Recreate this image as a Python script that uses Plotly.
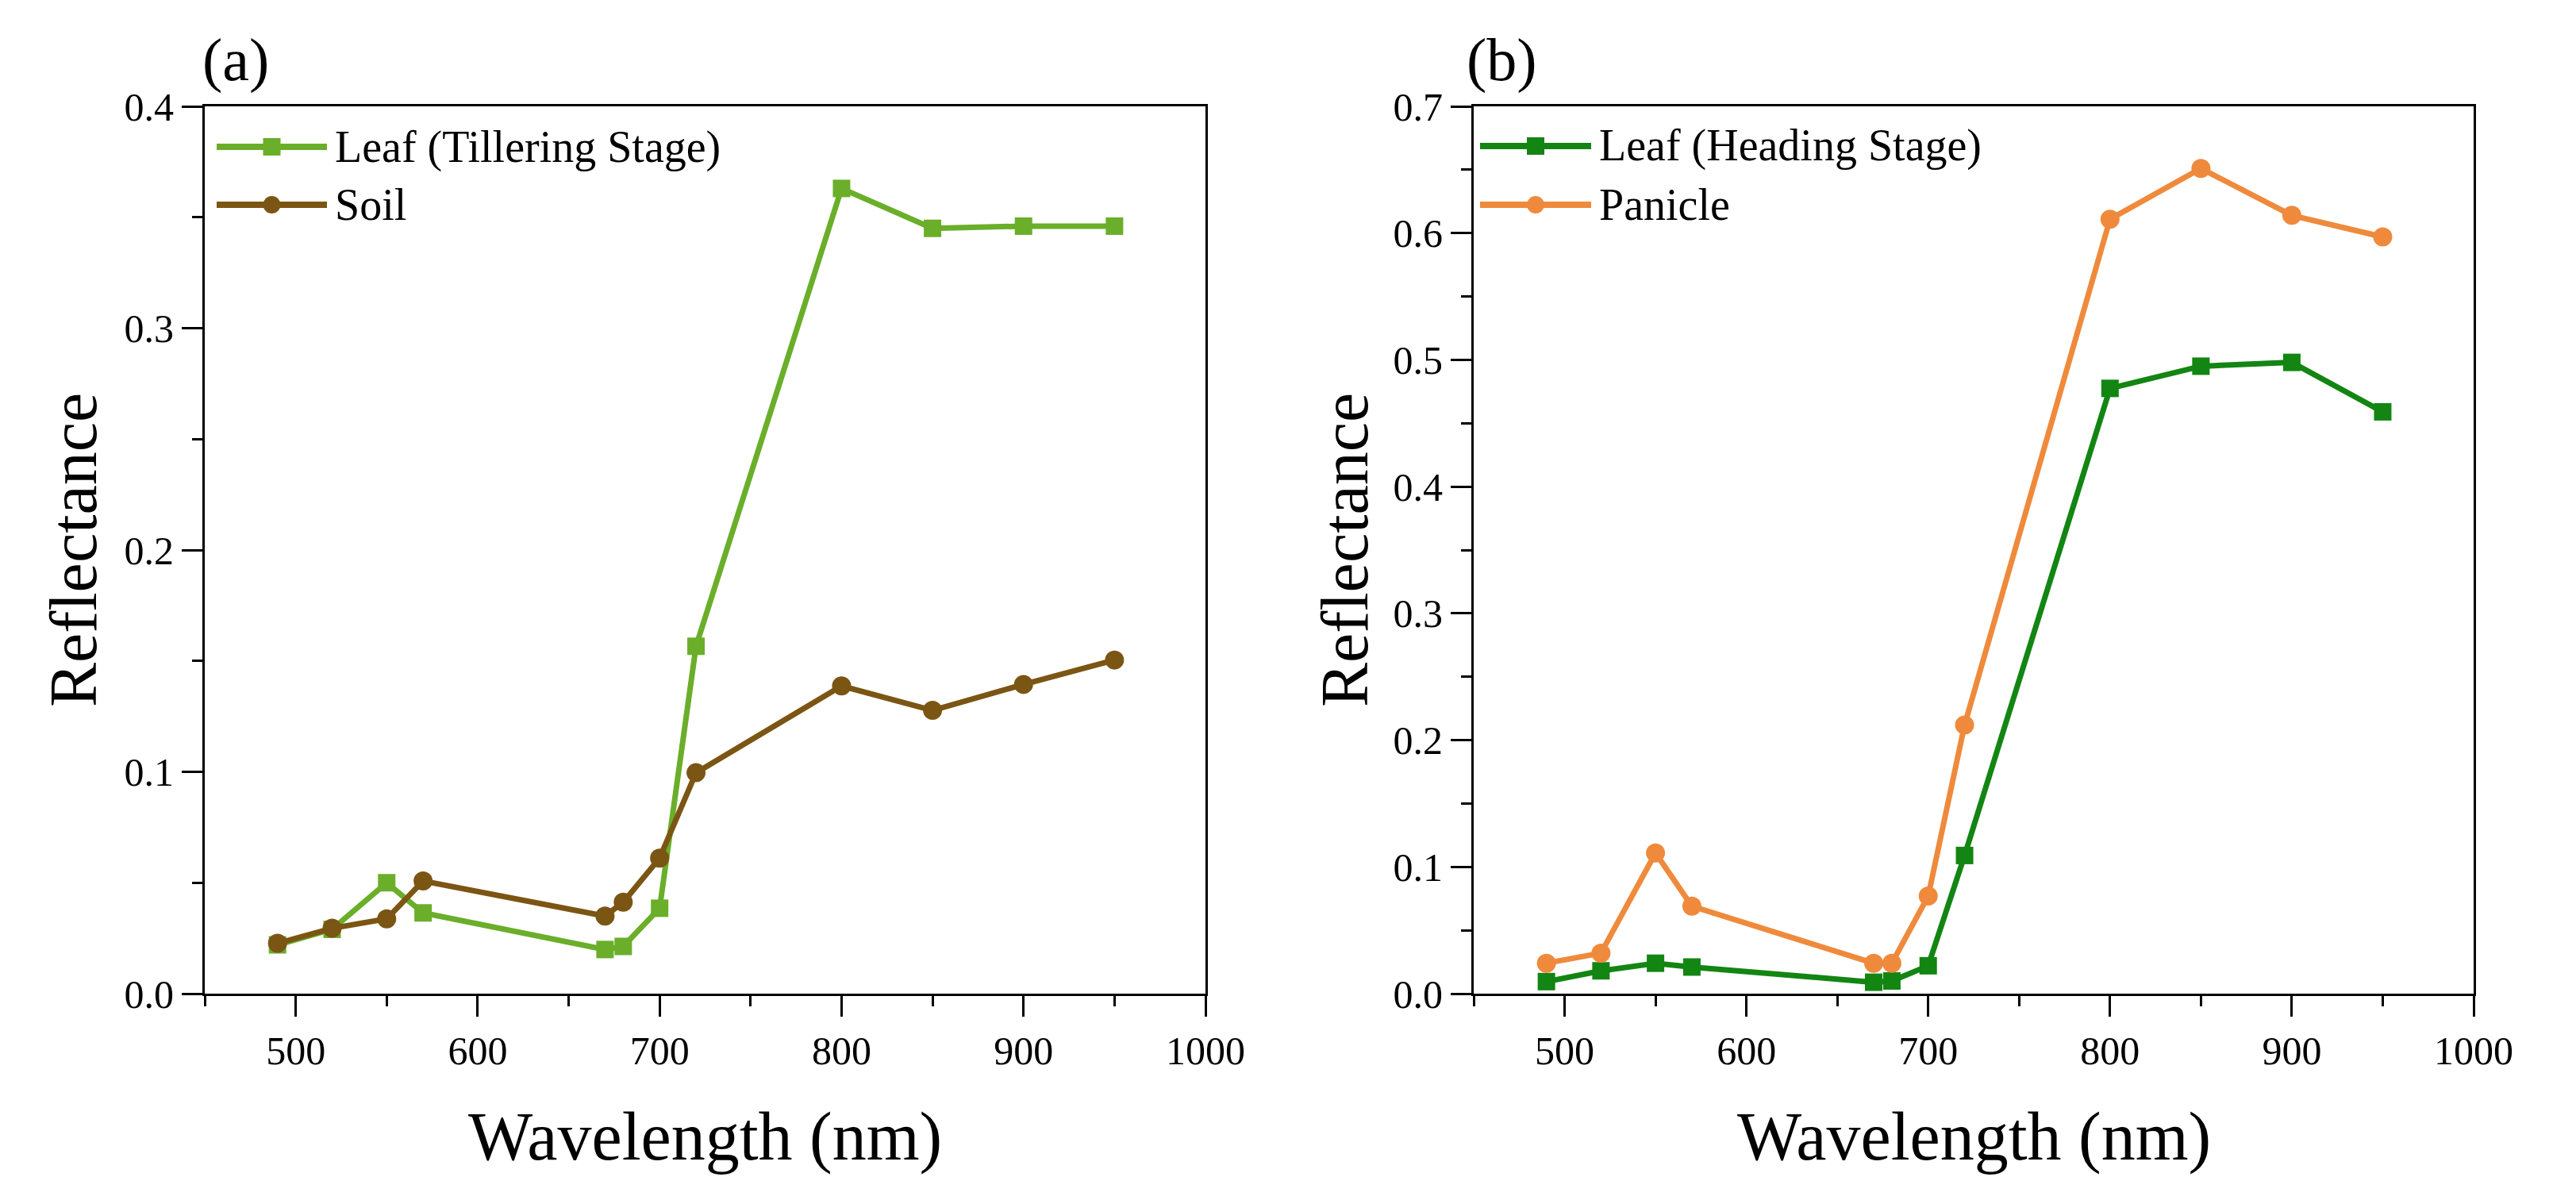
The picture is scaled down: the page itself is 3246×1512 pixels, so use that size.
import plotly.graph_objects as go

# ---------------- data ----------------
wavelength = [490, 520, 550, 570, 670, 680, 700, 720, 800, 850, 900, 950]

leaf_tillering = [0.022, 0.029, 0.050, 0.0364, 0.0199, 0.0213, 0.0385, 0.1566, 0.363, 0.345, 0.346, 0.346]
soil = [0.0227, 0.0295, 0.0337, 0.0508, 0.035, 0.0412, 0.0611, 0.0996, 0.1387, 0.1277, 0.1394, 0.1504]

leaf_heading = [0.0095, 0.018, 0.024, 0.021, 0.009, 0.010, 0.022, 0.109, 0.4775, 0.495, 0.498, 0.459]
panicle = [0.024, 0.032, 0.111, 0.069, 0.024, 0.024, 0.077, 0.212, 0.611, 0.651, 0.614, 0.597]

x_ticks = [500, 600, 700, 800, 900, 1000]
y_ticks_a = [0.0, 0.1, 0.2, 0.3, 0.4]
y_ticks_b = [0.0, 0.1, 0.2, 0.3, 0.4, 0.5, 0.6, 0.7]

name_a1, name_a2 = "Leaf (Tillering Stage)", "Soil"
name_b1, name_b2 = "Leaf (Heading Stage)", "Panicle"

# ---------------- style ----------------
FONT = "Liberation Serif"
C_LEAF_T = "#6AAE2A"
C_SOIL = "#7B5513"
C_LEAF_H = "#138513"
C_PANICLE = "#EF8A3C"
LW = 7

W, H = 3246, 1512
fig = go.Figure()


def add(series, name, color, symbol, size, xa, ya):
    fig.add_trace(go.Scatter(
        x=wavelength, y=series, name=name, mode="lines+markers",
        line=dict(color=color, width=LW),
        marker=dict(symbol=symbol, size=size, color=color, line=dict(width=0)),
        xaxis=xa, yaxis=ya, showlegend=False))


add(leaf_tillering, name_a1, C_LEAF_T, "square", 22, "x", "y")
add(soil, name_a2, C_SOIL, "circle", 24, "x", "y")
add(leaf_heading, name_b1, C_LEAF_H, "square", 22, "x2", "y2")
add(panicle, name_b2, C_PANICLE, "circle", 24, "x2", "y2")

common = dict(
    showline=True, linecolor="black", linewidth=3, mirror=True,
    ticks="outside", ticklen=26, tickwidth=3, tickcolor="black",
    showgrid=False, zeroline=False, automargin=False,
    tickfont=dict(family=FONT, size=50, color="black"),
)

yd = [1 - 1252 / H, 1 - 134 / H]
xa_dom = [258 / W, 1519 / W]
xb_dom = [1857 / W, 3117 / W]

xcommon = dict(common, range=[450, 1000], tickmode="array", tickvals=x_ticks,
               ticktext=[str(v) for v in x_ticks],
               minor=dict(ticks="outside", ticklen=13, tickwidth=3, tickcolor="black",
                          tickmode="linear", tick0=450, dtick=50, showgrid=False))

fig.update_layout(
    width=W, height=H,
    margin=dict(l=0, r=0, t=0, b=0),
    paper_bgcolor="white", plot_bgcolor="white",
    showlegend=False,
    font=dict(family=FONT, color="black"),
    xaxis=dict(xcommon, domain=xa_dom, anchor="y"),
    yaxis=dict(common, domain=yd, anchor="x", range=[0, 0.4], tickmode="array",
               tickvals=y_ticks_a, ticktext=[f"{v:.1f}" for v in y_ticks_a],
               minor=dict(ticks="outside", ticklen=13, tickwidth=3, tickcolor="black",
                          tickmode="linear", tick0=0, dtick=0.05, showgrid=False)),
    xaxis2=dict(xcommon, domain=xb_dom, anchor="y2"),
    yaxis2=dict(common, domain=yd, anchor="x2", range=[0, 0.7], tickmode="array",
                tickvals=y_ticks_b, ticktext=[f"{v:.1f}" for v in y_ticks_b],
                minor=dict(ticks="outside", ticklen=13, tickwidth=3, tickcolor="black",
                           tickmode="linear", tick0=0, dtick=0.05, showgrid=False)),
)

annotations = []
shapes = []


def txt(text, x, y, size, angle=0, xanchor="center", xref="paper", yref="paper"):
    annotations.append(dict(text=text, x=x, y=y, xref=xref, yref=yref, showarrow=False,
                            xanchor=xanchor, yanchor="middle", textangle=angle,
                            font=dict(family=FONT, size=size, color="black")))


# axis titles
txt("Wavelength (nm)", (258 + 1519) / 2 / W, 1 - 1432 / H, 86)
txt("Wavelength (nm)", (1857 + 3117) / 2 / W, 1 - 1432 / H, 86)
txt("Reflectance", 93 / W, 1 - 693 / H, 84, angle=-90)
txt("Reflectance", 1695 / W, 1 - 693 / H, 84, angle=-90)
# panel labels
txt("(a)", 297 / W, 1 - 75 / H, 76)
txt("(b)", 1892 / W, 1 - 75 / H, 76)


# manual legends (long line samples as in the original)
def legend_item(xr, yr, x0, x1, y, name, color, symbol):
    shapes.append(dict(type="line", xref=xr + " domain", yref=yr + " domain",
                       x0=x0, x1=x1, y0=y, y1=y,
                       line=dict(color=color, width=LW + 1)))
    xm = (x0 + x1) / 2
    shapes.append(dict(type="rect" if symbol == "square" else "circle",
                       xref=xr + " domain", yref=yr + " domain",
                       xsizemode="pixel", ysizemode="pixel", xanchor=xm, yanchor=y,
                       x0=-11, x1=11, y0=-11, y1=11,
                       fillcolor=color, line=dict(width=0)))
    annotations.append(dict(text=name, x=x1 + 0.006, y=y, xref=xr + " domain",
                            yref=yr + " domain", showarrow=False, xanchor="left",
                            yanchor="middle",
                            font=dict(family=FONT, size=56, color="black")))


legend_item("x", "y", 15 / 1261, 154 / 1261, (1252 - 185) / 1118, name_a1, C_LEAF_T, "square")
legend_item("x", "y", 15 / 1261, 154 / 1261, (1252 - 258) / 1118, name_a2, C_SOIL, "circle")
legend_item("x2", "y2", 8 / 1260, 148 / 1260, (1252 - 184) / 1118, name_b1, C_LEAF_H, "square")
legend_item("x2", "y2", 8 / 1260, 148 / 1260, (1252 - 258) / 1118, name_b2, C_PANICLE, "circle")

fig.update_layout(annotations=annotations, shapes=shapes)

fig.write_html("out.html")
